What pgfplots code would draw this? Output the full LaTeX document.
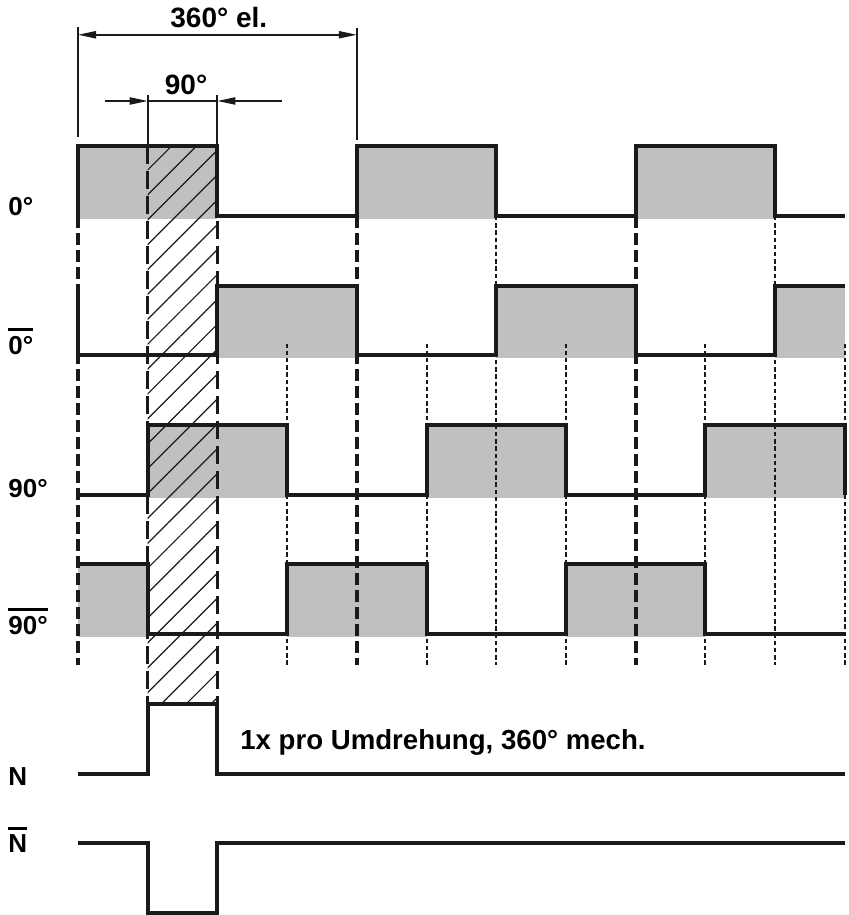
\documentclass[border=0pt]{standalone}
\usepackage{fontspec}
\setmainfont{Liberation Sans}
\usepackage{pgfplots}
\pgfplotsset{compat=1.18}
\usetikzlibrary{arrows.meta,patterns.meta}
\definecolor{sgray}{HTML}{C0C0C0}
\definecolor{ink}{HTML}{1A1A1A}
\newcommand\olbar[2]{\vbox{\hrule height 1.3pt\kern #1\hbox{#2}}}
\tikzset{
  sig/.style={line width=2pt, ink, line join=miter},
  grect/.style={fill=sgray, draw=none},
  thickdash/.style={line width=2.1pt, ink, dash pattern=on 6pt off 2.5pt},
  meddash/.style={line width=1.3pt, ink, dash pattern=on 9pt off 3.5pt},
  dots/.style={line width=1pt, ink, dash pattern=on 2.2pt off 1.4pt},
  thinl/.style={line width=1pt, ink},
  lbl/.style={anchor=base west, inner sep=0pt, font=\fontsize{13}{15}\selectfont\bfseries},
}
\begin{document}
\begin{tikzpicture}
\begin{axis}[
  scale only axis, width=424.5pt, height=457.5pt,
  xmin=-1.1191, xmax=11.0617, ymin=-0.0287, ymax=13.0990,
  hide axis, clip=false,
  every axis plot/.append style={forget plot, sharp plot, mark=none},
]
% gray fills: 0 deg
\addplot[grect] coordinates {(0,9.96)(0,11)(2,11)(2,9.96)};
\addplot[grect] coordinates {(4,9.96)(4,11)(6,11)(6,9.96)};
\addplot[grect] coordinates {(8,9.96)(8,11)(10,11)(10,9.96)};
% 0 bar
\addplot[grect] coordinates {(2,7.96)(2,9)(4,9)(4,7.96)};
\addplot[grect] coordinates {(6,7.96)(6,9)(8,9)(8,7.96)};
\addplot[grect] coordinates {(10,7.96)(10,9)(11,9)(11,7.96)};
% 90 deg
\addplot[grect] coordinates {(1,5.96)(1,7)(3,7)(3,5.96)};
\addplot[grect] coordinates {(5,5.96)(5,7)(7,7)(7,5.96)};
\addplot[grect] coordinates {(9,5.96)(9,7)(11,7)(11,5.96)};
% 90 bar
\addplot[grect] coordinates {(0,3.96)(0,5)(1,5)(1,3.96)};
\addplot[grect] coordinates {(3,3.96)(3,5)(5,5)(5,3.96)};
\addplot[grect] coordinates {(7,3.96)(7,5)(9,5)(9,3.96)};
% hatched 90 deg window
\addplot[draw=none, pattern={Lines[angle=45,distance=8.8pt,line width=0.6pt]}, pattern color=ink]
  coordinates {(1,3)(1,11)(2,11)(2,3)};
% thick dashed lines
\addplot[thickdash] coordinates {(0,10)(0,3.56)};
\addplot[thickdash] coordinates {(4,10)(4,3.56)};
\addplot[thickdash] coordinates {(8,10)(8,3.56)};
% medium dashed lines
\addplot[meddash] coordinates {(1,11)(1,3)};
\addplot[meddash] coordinates {(2,11)(2,3)};
% dotted lines
\addplot[dots] coordinates {(3,8.17)(3,3.56)};
\addplot[dots] coordinates {(5,8.17)(5,3.56)};
\addplot[dots] coordinates {(6,10)(6,3.56)};
\addplot[dots] coordinates {(7,8.17)(7,3.56)};
\addplot[dots] coordinates {(9,8.17)(9,3.56)};
\addplot[dots] coordinates {(10,10)(10,3.56)};
\addplot[dots] coordinates {(11,8.17)(11,3.56)};
% signals
\addplot[sig] coordinates {(0,10)(0,11)(2,11)(2,10)(4,10)(4,11)(6,11)(6,10)(8,10)(8,11)(10,11)(10,10)(11,10)};
\addplot[sig] coordinates {(0,9)(0,8)(2,8)(2,9)(4,9)(4,8)(6,8)(6,9)(8,9)(8,8)(10,8)(10,9)(11,9)};
\addplot[sig] coordinates {(0,6)(1,6)(1,7)(3,7)(3,6)(5,6)(5,7)(7,7)(7,6)(9,6)(9,7)(11,7)(11,6)};
\addplot[sig] coordinates {(0,5)(1,5)(1,4)(3,4)(3,5)(5,5)(5,4)(7,4)(7,5)(9,5)(9,4)(11,4)};
\addplot[sig] coordinates {(0,2)(1,2)(1,3)(2,3)(2,2)(11,2)};
\addplot[sig] coordinates {(0,1)(1,1)(1,0)(2,0)(2,1)(11,1)};
% dimension lines
\addplot[thinl] coordinates {(0,12.71)(0,11.13)};
\addplot[thinl] coordinates {(4,12.70)(4,11.09)};
\addplot[thinl] coordinates {(1,11.74)(1,11)};
\addplot[thinl] coordinates {(2,11.74)(2,11)};
\addplot[line width=0.8pt, ink, {Triangle[length=9pt,width=3.6pt]}-{Triangle[length=9pt,width=3.6pt]}] coordinates {(0,12.6)(4,12.6)};
\addplot[line width=0.8pt, ink, -{Triangle[length=9pt,width=3.6pt]}] coordinates {(0.387,11.65)(1,11.65)};
\addplot[line width=0.8pt, ink] coordinates {(1,11.65)(2,11.65)};
\addplot[line width=0.8pt, ink, {Triangle[length=9pt,width=3.6pt]}-] coordinates {(2,11.65)(2.93,11.65)};
% texts
\node[anchor=base, inner sep=0pt, font=\fontsize{14}{16}\selectfont\bfseries] at (axis cs:2.02,12.71) {360° el.};
\node[anchor=base, inner sep=0pt, font=\fontsize{14}{16}\selectfont\bfseries] at (axis cs:1.55,11.736) {90°};
\node[anchor=base west, inner sep=0pt, font=\fontsize{13.8}{16}\selectfont\bfseries] at (axis cs:2.324,2.34) {1x pro Umdrehung, 360° mech.};
\node[lbl] at (axis cs:-1.004,10.01) {0°};
\node[lbl] at (axis cs:-1.004,8.006) {\olbar{3pt}{0°}};
\node[lbl] at (axis cs:-1.004,5.968) {90°};
\node[lbl] at (axis cs:-1.004,3.989) {\olbar{3pt}{90°}};
\node[lbl] at (axis cs:-1.004,1.836) {N};
\node[lbl] at (axis cs:-1.004,0.861) {\olbar{2.5pt}{N}};
\end{axis}
\pgfresetboundingbox
\path[use as bounding box] (current axis.south west) rectangle (current axis.north east);
\end{tikzpicture}
\end{document}
